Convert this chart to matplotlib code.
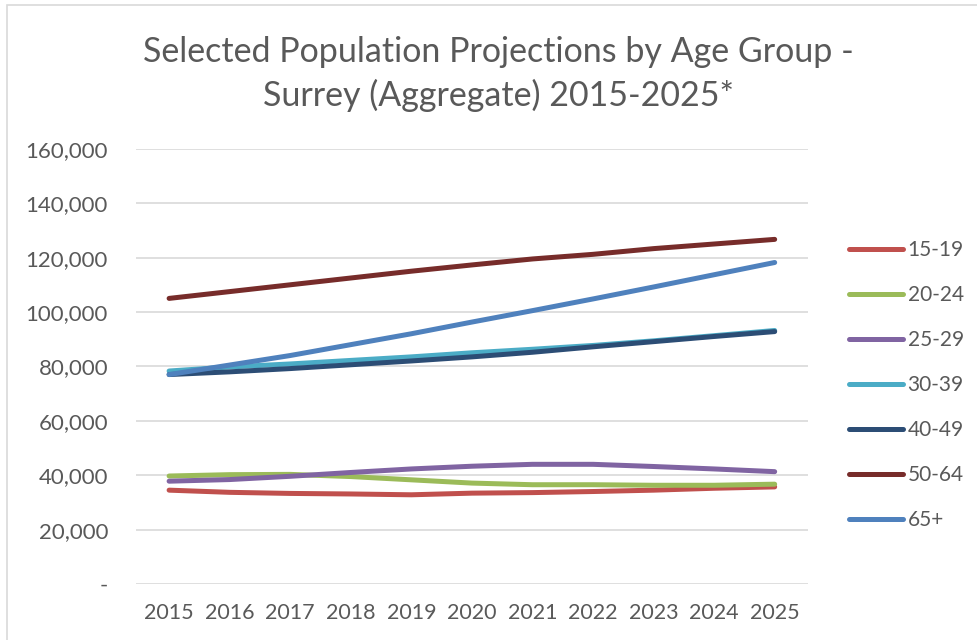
import matplotlib
matplotlib.use("Agg")
import matplotlib.pyplot as plt
from matplotlib.patches import Rectangle
from matplotlib.ticker import FuncFormatter, MultipleLocator

years = [2015, 2016, 2017, 2018, 2019, 2020, 2021, 2022, 2023, 2024, 2025]

age_15_19 = [34500, 33700, 33300, 33100, 32800, 33400, 33600, 34000, 34500, 35200, 35700]
age_20_24 = [39700, 40200, 40300, 39500, 38300, 37100, 36500, 36500, 36300, 36300, 36700]
age_25_29 = [37800, 38400, 39600, 41000, 42300, 43300, 44000, 44000, 43200, 42300, 41300]
age_30_39 = [78300, 79800, 80900, 82200, 83500, 85000, 86300, 87700, 89400, 91300, 93200]
age_40_49 = [77000, 78000, 79200, 80600, 82000, 83500, 85200, 87200, 89100, 91000, 92800]
age_50_64 = [105000, 107500, 110000, 112500, 115000, 117300, 119500, 121200, 123300, 125000, 126700]
age_65_plus = [77000, 80500, 84000, 88000, 92000, 96300, 100500, 104800, 109200, 113700, 118200]

series_labels = ["15-19", "20-24", "25-29", "30-39", "40-49", "50-64", "65+"]
series_values = [age_15_19, age_20_24, age_25_29, age_30_39, age_40_49, age_50_64, age_65_plus]
series_colors = ["#C0504D", "#9BBB59", "#8064A2", "#4BACC6", "#2C4D75", "#772C2A", "#4F81BD"]

title_text = "Selected Population Projections by Age Group -\nSurrey (Aggregate) 2015-2025*"

text_color = "#595959"
font_name = ["Lato", "DejaVu Sans"]
plt.rcParams["font.family"] = font_name

fig = plt.figure(figsize=(9.77, 6.40), dpi=100)
ax = fig.add_axes([0.139, 0.0875, 0.688, 0.68])

# Chart-area frame (left and top edges fall within the canvas)
fig.patches.append(Rectangle((7 / 977, -0.1), 1.2, 1.1 - 5 / 640,
                             transform=fig.transFigure, fill=False,
                             edgecolor="#D9D9D9", linewidth=1.2))

for label, values, color in zip(series_labels, series_values, series_colors):
    ax.plot(years, values, color=color, linewidth=3.6, solid_capstyle="round",
            label=label)

ax.set_xlim(2014.45, 2025.55)
ax.set_ylim(0, 160000)
ax.yaxis.set_major_locator(MultipleLocator(20000))
ax.set_xticks(years)
ax.set_xticklabels([str(y) for y in years])
ax.yaxis.set_major_formatter(
    FuncFormatter(lambda v, p: "-" if v == 0 else f"{int(v):,}"))

ax.grid(axis="y", color="#D9D9D9", linewidth=1.2)
ax.set_axisbelow(True)
for side in ["left", "right", "top", "bottom"]:
    ax.spines[side].set_visible(False)
ax.tick_params(axis="both", length=0, labelcolor=text_color)
ax.tick_params(axis="y", pad=20, labelsize=16)
ax.tick_params(axis="x", pad=14, labelsize=15.5)

fig.text(0.51, 0.885, title_text, fontsize=24.5, color=text_color,
         ha="center", va="center", linespacing=1.4)

leg = ax.legend(loc="upper left", bbox_to_anchor=(1.018, 0.8575), frameon=False,
                fontsize=15, labelcolor=text_color, handlelength=2.6,
                handletextpad=0.2, labelspacing=1.2, borderaxespad=1.0)

fig.savefig("out.png", dpi=100, facecolor="white")
